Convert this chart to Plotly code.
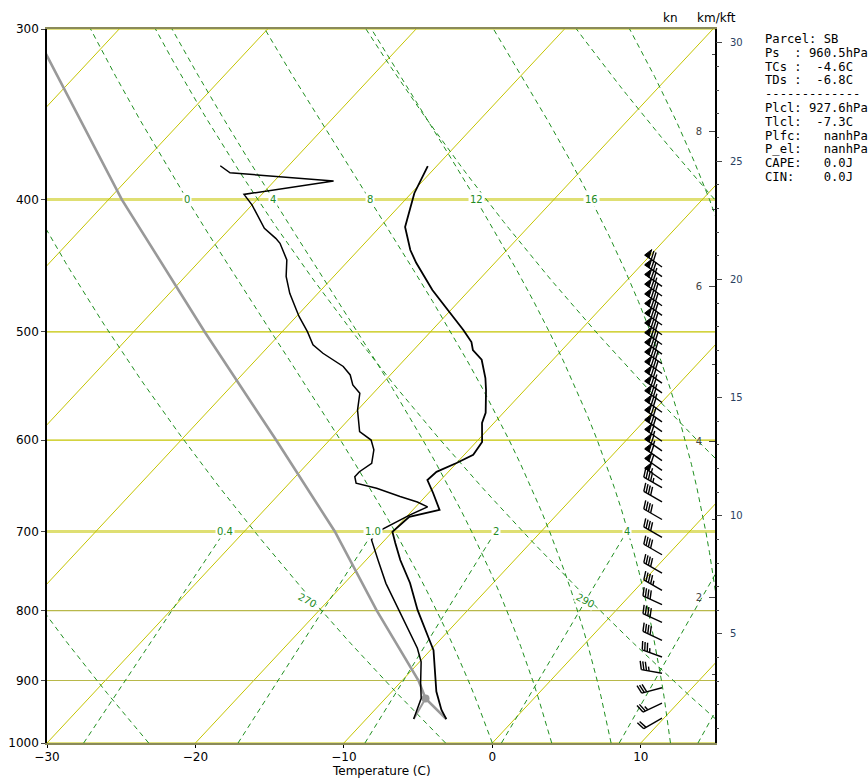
import numpy as np
import plotly.graph_objects as go

# ---------------- data ----------------
temp_p = [960.5, 945.9, 917, 874, 855, 836, 799, 763.5, 734.5, 713.8, 700.4, 683, 675,
          656, 641.8, 633, 623.7, 615, 602, 583, 573, 551.5, 540.4, 524, 515.5, 508.6,
          498.4, 481.9, 465.9, 445, 435.5, 418.9, 395.7, 378]
temp_c = [-4.6, -5.5, -7.0, -8.9, -9.8, -11.0, -13.4, -15.6, -17.7, -19.1, -20.0, -19.8, -18.2,
          -19.7, -20.9, -20.8, -20.0, -19.4, -19.6, -20.8, -21.2, -22.6, -23.4, -24.8, -26.0, -26.6,
          -27.9, -30.2, -32.5, -35.3, -36.5, -38.3, -39.8, -40.6]

dewp_p = [960.5, 927.4, 903.8, 872, 852.4, 836, 803.5, 764, 734.5, 714.2, 710, 702.3, 692.5,
          680.9, 671.5, 666, 660, 650.8, 645.3, 638.2, 632.9, 624, 610, 600, 591.6, 570.4,
          554.5, 546.7, 537.6, 530, 518.3, 511, 499.8, 487.3, 481.9, 468.5, 455.4, 442.8,
          430.6, 427, 419.8, 403.6, 396.5, 387.7, 382.3, 377.8]
dewp_c = [-6.8, -7.6, -8.6, -9.9, -11.0, -12.1, -14.4, -17.2, -19.2, -20.6, -20.9, -21.1, -20.6,
          -19.9, -19.2, -20.2, -21.7, -23.8, -25.5, -26.0, -26.0, -25.7, -26.4, -27.2, -28.5, -30.0,
          -30.9, -31.9, -32.7, -33.7, -35.9, -37.1, -38.3, -39.8, -40.4, -41.9, -43.2, -44.2,
          -45.7, -46.3, -47.7, -50.0, -51.2, -46.0, -53.5, -54.6]

parcel_p = [960.5, 927.6, 900, 800, 700, 600, 500, 400, 313.5, 300]
parcel_c = [-4.6, -7.3, -8.9, -16.1, -23.9, -33.6, -45.2, -59.1, -73.25, -75.9]
lcl_p, lcl_c = 927.6, -7.3
sfc_p, sfc_td = 960.5, -6.8

wind_p = [448.1, 455.5, 463.0, 470.6, 478.4, 486.2, 494.2, 502.4, 510.7, 519.1, 527.6, 536.3,
          545.1, 554.1, 563.2, 572.5, 581.9, 591.5, 601.2, 611.1, 621.2, 631.4, 641.8,
          650, 666, 686, 707, 728, 751, 773, 792, 816, 841, 865, 889, 911, 935, 959]
wind_kt = [70, 75, 75, 80, 80, 80, 80, 80, 80, 80, 80, 80,
           75, 75, 75, 70, 70, 70, 65, 65, 60, 60, 55,
           45, 40, 40, 40, 40, 40, 45, 40, 40, 40, 35, 35, 30, 25, 20]
wind_dir = [305, 305, 305, 305, 305, 305, 305, 305, 305, 305, 305, 305,
            305, 305, 305, 305, 305, 305, 305, 305, 305, 305, 305,
            300, 300, 300, 300, 300, 300, 300, 295, 295, 295, 290, 280, 255, 245, 240]

isobar_levels = [300, 400, 500, 600, 700, 800, 900, 1000]
isotherm_levels = list(range(-110, 50, 10))
dry_theta = [210, 230, 250, 270, 290, 310, 330, 350]
dry_labels = [270, 290]
moist_thetaw = [0, 4, 8, 12, 16, 20, 24]
moist_labels = [0, 4, 8, 12, 16]
mix_ratios = [0.4, 1.0, 2, 4, 7, 10, 16, 24, 32]

pres_ticks = [300, 400, 500, 600, 700, 800, 900, 1000]
temp_ticks = [-30, -20, -10, 0, 10]
km_ticks = [2, 4, 6, 8]
kft_ticks = [5, 10, 15, 20, 25, 30]

info_lines = ["Parcel: SB", "Ps  : 960.5hPa", "TCs :  -4.6C", "TDs :  -6.8C",
              "-------------", "Plcl: 927.6hPa", "Tlcl:  -7.3C", "Plfc:   nanhPa",
              "P_el:   nanhPa", "CAPE:   0.0J", "CIN:    0.0J"]

# ---------------- geometry ----------------
W, H = 868, 778
ML, MR, MT, MB = 47, 153, 29, 35
PW, PH = W - ML - MR, H - MT - MB
XMIN, XMAX = -30.0, 15.0
PBOT, PTOP = 1000.0, 300.0
SKEW = 85.8            # deg C shift per decade of pressure
DEC = np.log10(PBOT / PTOP)
XPP = (XMAX - XMIN) / PW      # x units per pixel
H_SCALE, P0 = 7.647, 1015.5   # km scale height used by the height axis


def skx(t, p):
    return np.asarray(t, float) + SKEW * np.log10(1000.0 / np.asarray(p, float))


def paper_y(ypx):
    return (H - MB - ypx) / PH


def paper_x(xpx):
    return (xpx - ML) / PW


YELLOW = "#c4c400"
OLIVE = "#b8b84a"
GREEN = "#1f8f1f"
fig = go.Figure()


def line(x, y, color, width, dash=None):
    fig.add_trace(go.Scatter(x=x, y=y, mode="lines", hoverinfo="skip", showlegend=False,
                             line=dict(color=color, width=width, dash=dash)))


pp = np.linspace(1000, 300, 141)

# isotherms
for t in isotherm_levels:
    line(skx(np.full_like(pp, t), pp), pp, YELLOW, 1)

# isobars
for p in isobar_levels:
    if p in (400, 700):
        line([XMIN, XMAX], [p, p], "rgba(196,196,0,0.55)", 3)
    elif p in (800, 900):
        line([XMIN, XMAX], [p, p], OLIVE, 1.2)
    else:
        line([XMIN, XMAX], [p, p], YELLOW, 1.2)

DASH = "5px,4px"
# dry adiabats
for th in dry_theta:
    tt = th * (pp / 1000.0) ** 0.2857 - 273.15
    line(skx(tt, pp), pp, GREEN, 1, DASH)


# moist adiabats (stepwise lift, as the plotting package does it)
def gamma_w(tk, pa):
    Rd, cp, eps = 287.04, 1005.7, 0.622
    tc = tk - 273.15
    es = 611.2 * np.exp(17.67 * tc / (tc + 243.5))
    ws = eps * es / (pa - es)
    tv = tk * (1 + ws / eps) / (1 + ws)
    lat = 1000 * (2500.8 - 2.36 * tc + 0.0016 * tc ** 2 - 0.00006 * tc ** 3)
    A = 1.0 + lat * ws / (Rd * tk)
    B = 1.0 + eps * lat * lat * ws / (cp * Rd * tk * tk)
    rho = pa / (Rd * tv)
    return (A / B) / (cp * rho)


def lift_wet(t0, pres):
    t = t0
    out = [t]
    for i in range(len(pres) - 1):
        dp = pres[i] - pres[i + 1]
        t = t - 100 * dp * gamma_w(t + 273.15, (pres[i] - dp / 2) * 100)
        out.append(t)
    return np.array(out)


pm = np.linspace(1000, 300, 29)
moist_curves = {}
for tw in moist_thetaw:
    tc = lift_wet(tw, pm)
    moist_curves[tw] = tc
    line(skx(tc, pm), pm, GREEN, 1, DASH)

# mixing ratio lines
pw_ = np.linspace(1000, 700, 61)


def td_from_w(w, p):
    e = w / 1000.0 * p / (0.622 + w / 1000.0)
    a = np.log(e / 6.112)
    return 243.5 * a / (17.67 - a)


for w in mix_ratios:
    line(skx(td_from_w(w, pw_), pw_), pw_, GREEN, 1, DASH)

# parcel
line(skx(parcel_c, parcel_p), parcel_p, "#999999", 2.6)
line(skx([sfc_td, lcl_c], [sfc_p, lcl_p]), [sfc_p, lcl_p], "#999999", 2.0)
fig.add_trace(go.Scatter(x=skx([lcl_c], [lcl_p]), y=[lcl_p], mode="markers", hoverinfo="skip",
                         showlegend=False, marker=dict(color="#999999", size=8)))

# temperature & dewpoint
line(skx(temp_c, temp_p), temp_p, "black", 1.8)
line(skx(dewp_c, dewp_p), dewp_p, "black", 1.5)

# ---------------- wind barbs (matplotlib-style geometry) ----------------
L = 21.0
hgt, wid, spc = 0.4 * L, 0.25 * L, 0.125 * L
BARB_X = XMIN + (662 - ML) * XPP
lx, ly, fx, fy = [], [], [], []


def to_data(px, py, p_anchor):
    return BARB_X + px * XPP, p_anchor * 10 ** (py * DEC / PH)


for p0, spd, d in zip(wind_p, wind_kt, wind_dir):
    r = np.radians(d)
    u = np.array([np.sin(r), -np.cos(r)])       # screen vector toward upwind
    fv = np.array([np.cos(r), np.sin(r)])       # feather direction (NH)

    def pt(xl, yl):
        v = yl * u + xl * fv
        return to_data(v[0], v[1], p0)

    mag = 5 * np.round(spd / 5)
    nfl = int(mag // 50); mag -= nfl * 50
    nb = int(mag // 10); mag -= nb * 10
    half = mag >= 5
    a = pt(0, 0); b = pt(0, L)
    lx += [a[0], b[0], None]; ly += [a[1], b[1], None]
    off = L
    for i in range(nfl):
        if off != L:
            off += spc / 2
        for q in (pt(0, off), pt(hgt, off - wid / 2), pt(0, off - wid), pt(0, off)):
            fx.append(q[0]); fy.append(q[1])
        fx.append(None); fy.append(None)
        off -= wid + spc
    for i in range(nb):
        q1 = pt(0, off); q2 = pt(hgt, off + wid / 2)
        lx += [q1[0], q2[0], None]; ly += [q1[1], q2[1], None]
        off -= spc
    if half:
        if off == L:
            off -= 1.5 * spc
        q1 = pt(0, off); q2 = pt(hgt / 2, off + wid / 4)
        lx += [q1[0], q2[0], None]; ly += [q1[1], q2[1], None]

fig.add_trace(go.Scatter(x=lx, y=ly, mode="lines", hoverinfo="skip", showlegend=False,
                         line=dict(color="black", width=1.4)))
fig.add_trace(go.Scatter(x=fx, y=fy, mode="lines", fill="toself", fillcolor="black",
                         hoverinfo="skip", showlegend=False,
                         line=dict(color="black", width=1)))

# ---------------- annotations ----------------
ann = []
lab_font = dict(family="DejaVu Sans", size=10, color="#228b22")
for tw in moist_labels:
    t400 = np.interp(400, pm[::-1], moist_curves[tw][::-1])
    x = float(skx(t400, 400))
    if XMIN < x < XMAX:
        ann.append(dict(x=x, y=np.log10(400), xref="x", yref="y", text=str(tw), showarrow=False,
                        font=lab_font, bgcolor="white", borderpad=1))
for w in mix_ratios:
    x = float(skx(td_from_w(w, 700), 700))
    if XMIN < x < XMAX:
        ann.append(dict(x=x, y=np.log10(700), xref="x", yref="y", text=str(w), showarrow=False,
                        font=lab_font, bgcolor="white", borderpad=1))
for th in dry_labels:
    p = 786
    x = float(skx(th * (p / 1000) ** 0.2857 - 273.15, p)) - 0.3
    ann.append(dict(x=x, y=np.log10(p), xref="x", yref="y", text=str(th),
                    showarrow=False, font=lab_font, bgcolor="white", borderpad=0, textangle=28))

for i, s in enumerate(info_lines):
    ann.append(dict(x=paper_x(763), y=paper_y(39 + 13.8 * i), xref="paper", yref="paper",
                    xanchor="left", yanchor="middle", showarrow=False,
                    text=s.replace(" ", "&nbsp;"),
                    font=dict(family="DejaVu Sans Mono", size=12.2, color="black")))
ann.append(dict(x=paper_x(670), y=paper_y(18), xref="paper", yref="paper",
                xanchor="center", yanchor="middle", showarrow=False, text="kn",
                font=dict(family="DejaVu Sans", size=12, color="black")))
ann.append(dict(x=paper_x(716), y=paper_y(18), xref="paper", yref="paper",
                xanchor="center", yanchor="middle", showarrow=False, text="km/kft",
                font=dict(family="DejaVu Sans", size=12, color="black")))
ann.append(dict(x=paper_x(381), y=paper_y(771), xref="paper", yref="paper",
                xanchor="center", yanchor="middle", showarrow=False, text="Temperature (C)",
                font=dict(family="DejaVu Sans", size=12, color="black")))

zb = H_SCALE * np.log(P0 / PBOT)
zt = H_SCALE * np.log(P0 / PTOP)
tick_font = dict(family="DejaVu Sans", size=12, color="black")
fig.update_layout(
    width=W, height=H, margin=dict(l=ML, r=MR, t=MT, b=MB, autoexpand=False),
    paper_bgcolor="white", plot_bgcolor="white",
    annotations=ann, showlegend=False,
    xaxis=dict(range=[XMIN, XMAX], tickvals=temp_ticks, automargin=False,
               ticktext=[str(t).replace("-", "\u2212") for t in temp_ticks],
               showgrid=False, zeroline=False, showline=True, mirror=True, linecolor="#8a8a5a",
               linewidth=1.5, ticks="outside", ticklen=3.5, tickcolor="black",
               tickfont=tick_font, ticklabelstandoff=-2),
    yaxis=dict(type="log", range=[np.log10(PBOT), np.log10(PTOP)], tickvals=pres_ticks,
               automargin=False,
               ticktext=[str(p) for p in pres_ticks], showgrid=False, zeroline=False,
               showline=True, mirror=True, linecolor="black", linewidth=1.5, ticks="outside",
               ticklen=4, tickfont=tick_font),
    yaxis2=dict(overlaying="y", side="right", anchor="x", range=[zb, zt], tickvals=km_ticks,
                automargin=False, ticklabelstandoff=6,
                ticks="inside", ticklen=6, ticklabelposition="inside", showgrid=False,
                zeroline=False, showline=False, tickfont=dict(family="DejaVu Sans", size=10),
                minor=dict(ticks="inside", dtick=1, ticklen=3, showgrid=False)),
    yaxis3=dict(overlaying="y", side="right", anchor="x", automargin=False,
                range=[zb * 3.28084, zt * 3.28084], tickvals=kft_ticks, ticks="outside",
                ticklen=6, showgrid=False, zeroline=False, showline=False,
                ticklabelstandoff=6,
                tickfont=dict(family="DejaVu Sans", size=10),
                minor=dict(ticks="outside", dtick=1, ticklen=3, showgrid=False)),
)
# dummy traces to activate right axes
fig.add_trace(go.Scatter(x=[None], y=[None], yaxis="y2", showlegend=False))
fig.add_trace(go.Scatter(x=[None], y=[None], yaxis="y3", showlegend=False))

fig.write_html("out.html")
